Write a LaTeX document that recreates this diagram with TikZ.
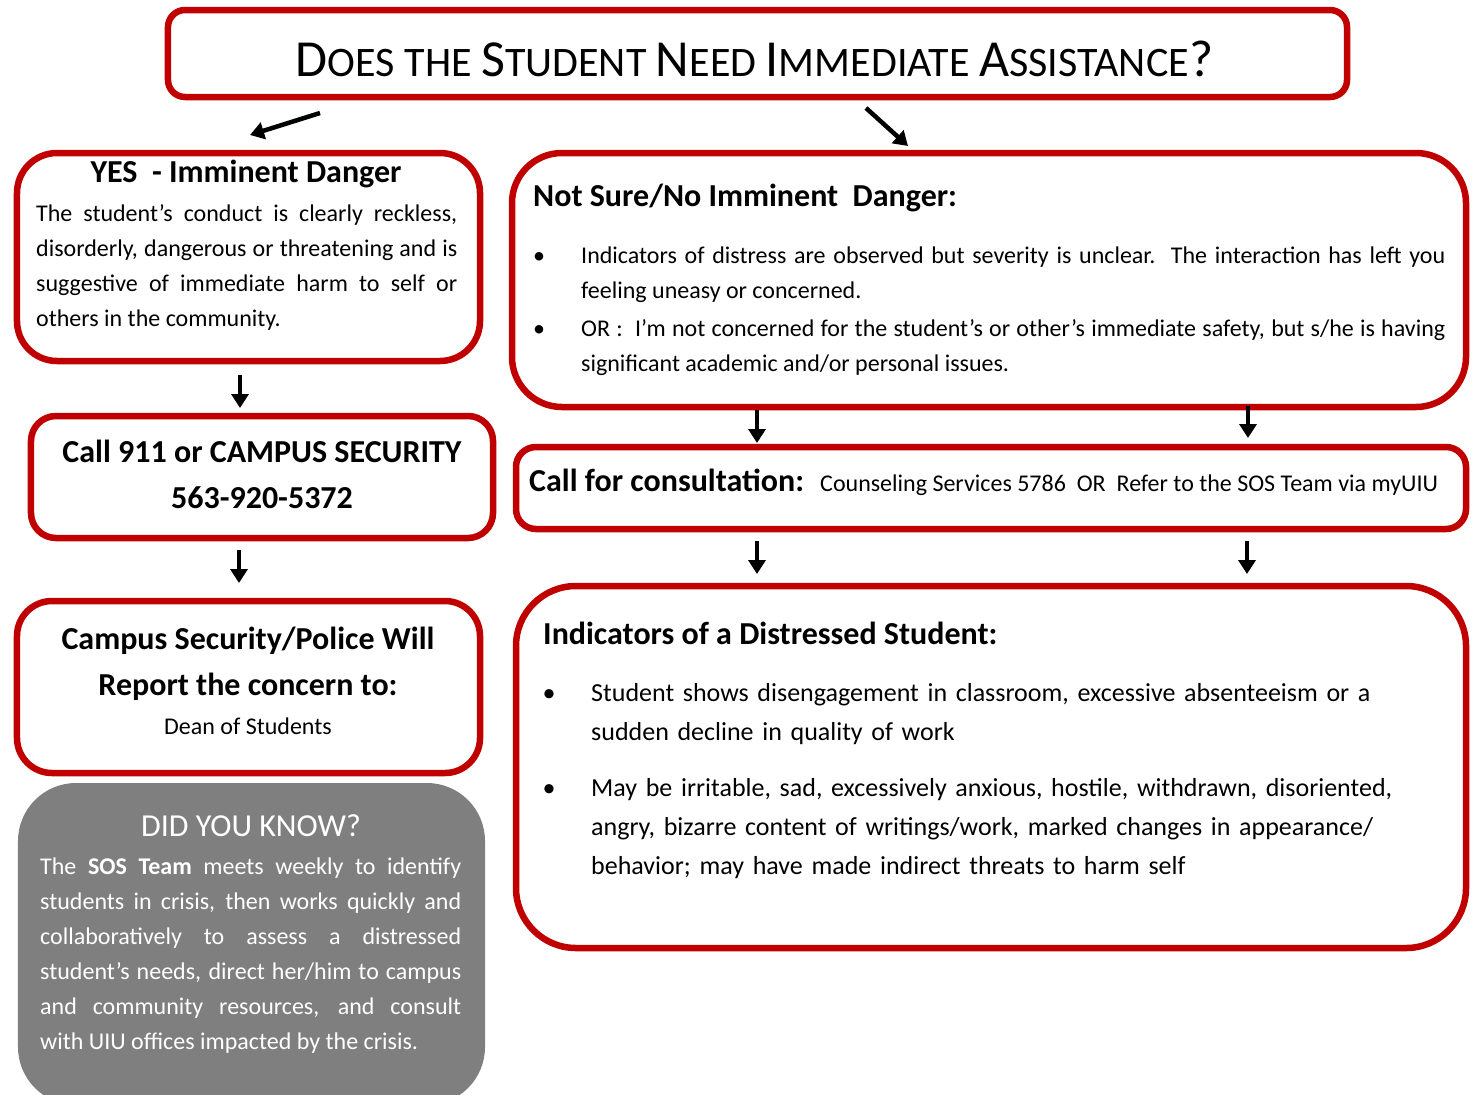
\documentclass[tikz,border=0pt]{standalone}
\usepackage{fontspec}
\setmainfont{Carlito}
\usetikzlibrary{arrows.meta}
\definecolor{uiured}{HTML}{C00000}
\definecolor{panelgray}{HTML}{7F7F7F}
% fake small caps for the heading
\newcommand{\scbig}[1]{{\fontsize{52bp}{60bp}\selectfont #1}}
\newcommand{\scsmall}[1]{{\fontsize{42bp}{60bp}\selectfont #1}}
\begin{document}
\begin{tikzpicture}[x=1bp,y=-1bp,
  box/.style={draw=uiured,line width=6.5bp,fill=white,rectangle,inner sep=0pt,outer sep=0pt},
  arr/.style={line width=4.5bp,-{Triangle[length=14bp,width=17bp]}},
  body/.style={font=\fontsize{24bp}{35bp}\selectfont,inner sep=0pt,align=justify},
  bodyl/.style={font=\fontsize{26bp}{39bp}\selectfont,inner sep=0pt,align=left},
  head/.style={font=\fontsize{32bp}{46bp}\selectfont\bfseries,inner sep=0pt},
  dot/.style={font=\fontsize{24bp}{35bp}\selectfont,inner sep=0pt,anchor=base}]
\useasboundingbox (0,0) rectangle (1475,1094);
\clip (0,0) rectangle (1475,1094);

% boxes
\node[box,rounded corners=17bp,minimum width=1179bp,minimum height=87bp] (title) at (757.5,53.5) {};
\node[box,rounded corners=40bp,minimum width=463bp,minimum height=208bp] (yes) at (248.5,257) {};
\node[box,rounded corners=50bp,minimum width=954bp,minimum height=254bp] (notsure) at (989,280) {};
\node[box,rounded corners=25bp,minimum width=462bp,minimum height=122bp] (call) at (262,477) {};
\node[box,rounded corners=20bp,minimum width=950bp,minimum height=82bp] (consult) at (991,488) {};
\node[box,rounded corners=35bp,minimum width=463bp,minimum height=172bp] (police) at (248.5,687) {};
\node[box,rounded corners=60bp,minimum width=950bp,minimum height=362bp] (indic) at (991,767) {};
\node[fill=panelgray,rectangle,rounded corners=58bp,minimum width=467bp,minimum height=322bp,inner sep=0pt,outer sep=0pt] (know) at (251.5,944) {};

% heading
\node[inner sep=0pt,anchor=base] (titletext) at (754.5,76)
  {\scbig{D}\scsmall{OES THE }\scbig{S}\scsmall{TUDENT }\scbig{N}\scsmall{EED }\scbig{I}\scsmall{MMEDIATE }\scbig{A}\scsmall{SSISTANCE}\scbig{?}};

% yes branch
\node[head,anchor=base] (yeshead) at (246,182) {YES\ \ - Imminent Danger};
\node[body,text width=421bp,anchor=base west] (yesbody) at (36,221)
  {The student’s conduct is clearly reckless,\linebreak
   disorderly, dangerous or threatening and is\linebreak
   suggestive of immediate harm to self or\linebreak
   others in the community.};

\node[head,anchor=base] (callline1) at (262,462) {Call 911 or CAMPUS SECURITY};
\node[head,anchor=base] (callline2) at (262,508) {563-920-5372};

\node[head,anchor=base] (policeline1) at (248,649) {Campus Security/Police Will};
\node[head,anchor=base] (policeline2) at (248,695) {Report the concern to:};
\node[font=\fontsize{24bp}{35bp}\selectfont,inner sep=0pt,anchor=base] (dean) at (248,734) {Dean of Students};

% not sure branch
\node[head,anchor=base west] (nshead) at (533,206) {Not Sure/No Imminent\ \ Danger:};
\node[dot] (nsdot1) at (539,263) {•};
\node[body,text width=864bp,anchor=base west] (ns1) at (581,263)
  {Indicators of distress are observed but severity is unclear.\ \ The interaction has left you\linebreak
   feeling uneasy or concerned.};
\node[dot] (nsdot2) at (539,336) {•};
\node[body,text width=864bp,anchor=base west] (ns2) at (581,336)
  {OR :\ \ I’m not concerned for the student’s or other’s immediate safety, but s/he is having\linebreak
   significant academic and/or personal issues.};

\node[head,anchor=base west] (consulthead) at (529,491) {Call for consultation:};
\node[font=\fontsize{24bp}{35bp}\selectfont,inner sep=0pt,anchor=base west] (consulttext) at (820,491)
  {Counseling Services 5786\ \ OR\ \ Refer to the SOS Team via myUIU};

\node[head,anchor=base west] (indichead) at (543,644) {Indicators of a Distressed Student:};
\node[dot,font=\fontsize{26bp}{39bp}\selectfont] (indot1) at (549,701) {•};
\node[bodyl,text width=860bp,anchor=base west] (in1) at (591,701)
  {Student shows disengagement in classroom, excessive absenteeism or a\\
   sudden decline in quality of work};
\node[dot,font=\fontsize{26bp}{39bp}\selectfont] (indot2) at (549,796) {•};
\node[bodyl,text width=860bp,anchor=base west] (in2) at (591,796)
  {May be irritable, sad, excessively anxious, hostile, withdrawn, disoriented,\\
   angry, bizarre content of writings/work, marked changes in appearance/\\
   behavior; may have made indirect threats to harm self};

% did you know panel
\node[font=\fontsize{32bp}{35bp}\selectfont,text=white,inner sep=0pt,anchor=base] (knowhead) at (251,836) {DID YOU KNOW?};
\node[body,text=white,text width=421bp,anchor=base west] (knowbody) at (40,874)
  {The \textbf{SOS Team} meets weekly to identify\linebreak
   students in crisis, then works quickly and\linebreak
   collaboratively to assess a distressed\linebreak
   student’s needs, direct her/him to campus\linebreak
   and community resources, and consult\linebreak
   with UIU offices impacted by the crisis.};

% connectors
\draw[arr] ([shift={(-437.5,16)}]title.south) -- ([shift={(1.5,-18)}]yes.north);
\draw[arr] ([shift={(108.5,11)}]title.south) -- ([shift={(-81,-7)}]notsure.north);
\draw[arr] ([shift={(-8.5,14)}]yes.south) -- ([shift={(-22,-8)}]call.north);
\draw[arr] ([shift={(-23,12)}]call.south) -- ([shift={(-9.5,-18)}]police.north);
\draw[arr] ([shift={(-232,3)}]notsure.south) -- ([shift={(-234,-4)}]consult.north);
\draw[arr] ([shift={(259,-1)}]notsure.south) -- ([shift={(257,-9)}]consult.north);
\draw[arr] ([shift={(-234,12)}]consult.south) -- ([shift={(-234,-12)}]indic.north);
\draw[arr] ([shift={(256,12)}]consult.south) -- ([shift={(256,-12)}]indic.north);
\end{tikzpicture}
\end{document}
